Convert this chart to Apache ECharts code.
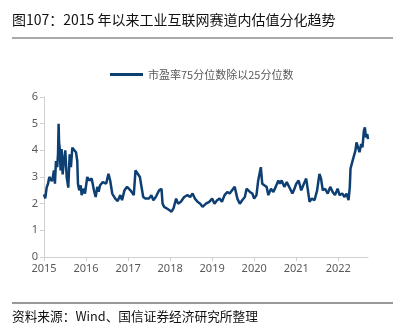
<!DOCTYPE html>
<html><head><meta charset="utf-8">
<script src="https://cdn.jsdelivr.net/npm/echarts@6/dist/echarts.min.js"></script>
<style>html,body{margin:0;padding:0;background:#fff}#c{width:409px;height:330px}</style>
</head><body><div id="c"></div>
<script>
var titleText = '图107：2015 年以来工业互联网赛道内估值分化趋势';
var sourceText = '资料来源：Wind、国信证券经济研究所整理';
var seriesName = '市盈率75分位数除以25分位数';
var yTicks = [0, 1, 2, 3, 4, 5, 6];
var dates = [
'2015-01-01','2015-01-12','2015-01-24','2015-02-05','2015-02-16','2015-02-28','2015-03-10','2015-03-17','2015-03-28','2015-04-06','2015-04-15','2015-04-26','2015-05-03','2015-05-08','2015-05-12','2015-05-17','2015-05-25','2015-06-03','2015-06-12','2015-06-23','2015-07-05','2015-07-17','2015-07-31','2015-08-12','2015-08-23','2015-09-04','2015-09-18','2015-10-06','2015-10-17','2015-10-23','2015-11-03','2015-11-16','2015-11-24','2015-12-08','2015-12-23',
'2016-01-12','2016-01-29','2016-02-19','2016-03-10','2016-03-25','2016-04-08','2016-04-20','2016-05-02','2016-05-26','2016-06-07','2016-06-24','2016-07-14','2016-07-29','2016-08-16','2016-09-11','2016-10-02','2016-10-25','2016-11-09','2016-11-30','2016-12-23',
'2017-01-21','2017-02-19','2017-03-06','2017-03-21','2017-04-13','2017-04-27','2017-05-12','2017-06-02','2017-07-01','2017-07-22','2017-08-08','2017-08-29','2017-09-27','2017-10-18','2017-10-27','2017-11-10','2017-12-04','2017-12-24',
'2018-01-13','2018-01-30','2018-02-22','2018-03-11','2018-04-04','2018-05-03','2018-06-01','2018-06-24','2018-07-15','2018-08-04','2018-08-27','2018-09-19','2018-10-10','2018-11-08','2018-12-07',
'2019-01-01','2019-01-21','2019-02-13','2019-03-06','2019-03-27','2019-04-19','2019-05-12','2019-06-02','2019-06-23','2019-07-16','2019-08-08','2019-08-29','2019-09-19','2019-10-12','2019-10-27','2019-11-25','2019-12-16',
'2020-01-01','2020-01-21','2020-02-05','2020-02-19','2020-02-28','2020-03-11','2020-03-29','2020-04-18','2020-05-03','2020-05-26','2020-06-16','2020-07-06','2020-07-29','2020-08-12','2020-08-27','2020-09-19','2020-10-10','2020-11-08','2020-11-28','2020-12-16',
'2021-01-01','2021-01-21','2021-02-13','2021-03-08','2021-03-28','2021-04-12','2021-04-26','2021-05-16','2021-06-08','2021-07-01','2021-07-21','2021-08-04','2021-08-19','2021-09-08','2021-10-01','2021-10-23','2021-11-13','2021-12-03','2021-12-26',
'2022-01-12','2022-02-04','2022-02-24','2022-03-13','2022-03-31','2022-04-11','2022-04-17','2022-05-02','2022-05-16','2022-05-30','2022-06-08','2022-06-20','2022-07-04','2022-07-19','2022-07-30','2022-08-11','2022-08-20','2022-08-29','2022-09-10','2022-09-16'
];
var values = [
2.35,2.2,2.6,2.75,3.0,3.06,2.85,2.94,3.25,2.75,3.6,3.37,3.9,5.0,4.3,4.1,3.25,4.05,3.1,3.6,4.0,3.0,2.6,3.85,3.37,4.1,4.05,3.93,3.6,2.75,2.5,2.69,2.32,2.56,2.38,
3.0,2.87,2.94,2.5,2.25,2.63,2.45,2.69,2.81,2.87,2.75,3.12,2.87,2.38,2.19,2.1,2.32,2.13,2.5,2.63,
2.5,2.32,3.25,3.18,3.0,3.0,2.25,2.19,2.19,2.32,2.13,2.25,2.5,2.56,2.0,1.88,1.82,1.76,
1.7,1.82,2.19,2.0,2.07,2.25,2.32,2.25,2.38,2.19,2.07,2.0,1.88,2.0,2.07,
2.19,2.0,2.13,2.19,2.07,2.32,2.44,2.38,2.5,2.63,2.19,2.0,2.13,2.25,2.56,2.44,2.38,
2.19,2.32,2.87,2.81,3.37,2.75,2.69,2.63,2.32,2.56,2.44,2.63,2.87,2.75,2.87,2.63,2.81,2.56,2.38,2.56,
2.75,2.87,2.5,2.75,2.94,2.5,2.07,2.19,2.13,2.5,3.12,2.94,2.5,2.56,2.38,2.63,2.44,2.32,2.56,
2.32,2.38,2.25,2.38,2.13,2.63,3.31,3.56,3.62,4.0,4.3,4.3,3.93,4.24,4.11,4.73,4.86,4.49,4.61,4.42
];
var data = dates.map(function(d, i){ return [d, values[i]]; });
var chart = echarts.init(document.getElementById('c'), null, {renderer:'canvas'});
chart.setOption({
  animation: false,
  backgroundColor: '#fff',
  title: {
    text: titleText, left: 7, top: 8,
    textStyle: {fontFamily: 'Noto Sans CJK SC', fontSize: 14, fontWeight: 'normal', color: '#111'}
  },
  legend: {
    top: 64, left: 105, itemWidth: 33, itemHeight: 3, itemGap: 4,
    icon: 'rect',
    textStyle: {fontFamily: 'Noto Sans CJK SC', fontSize: 11, color: '#595959'},
    data: [seriesName]
  },
  graphic: [
    {type:'line', shape:{x1:12,y1:38,x2:393,y2:38}, style:{stroke:'#555', lineWidth:1}},
    {type:'line', shape:{x1:12,y1:303,x2:393,y2:303}, style:{stroke:'#777', lineWidth:1.5}},
    {type:'text', left: 12, top: 310, style:{text: sourceText, font:'12.7px "Noto Sans CJK SC"', fill:'#111'}}
  ],
  grid: {left: 44, right: 41, top: 97, bottom: 73, containLabel: false},
  xAxis: {
    type: 'time', min: '2015-01-01', max: '2022-09-16',
    minInterval: 365*24*3600*1000, maxInterval: 366*24*3600*1000,
    axisLine: {lineStyle: {color: '#d0d0d0'}},
    axisTick: {lineStyle: {color: '#d0d0d0'}, length: 4},
    splitLine: {show: false},
    axisLabel: {color: '#595959', fontSize: 11, fontFamily: 'Noto Sans', margin: 6,
      formatter: function(v){ return String(new Date(v).getFullYear()); }}
  },
  yAxis: {
    type: 'value', min: yTicks[0], max: yTicks[yTicks.length-1], interval: 1,
    axisLine: {show: true, lineStyle: {color: '#d0d0d0'}},
    axisTick: {show: true, lineStyle: {color: '#d0d0d0'}, length: 4},
    splitLine: {show: false},
    axisLabel: {color: '#595959', fontSize: 11, fontFamily: 'Noto Sans', margin: 6}
  },
  series: [{
    name: seriesName, type: 'line', data: data, showSymbol: false, symbol: 'none',
    lineStyle: {color: '#0d3f73', width: 2.5}, itemStyle: {color: '#0d3f73'}
  }]
});
</script></body></html>
